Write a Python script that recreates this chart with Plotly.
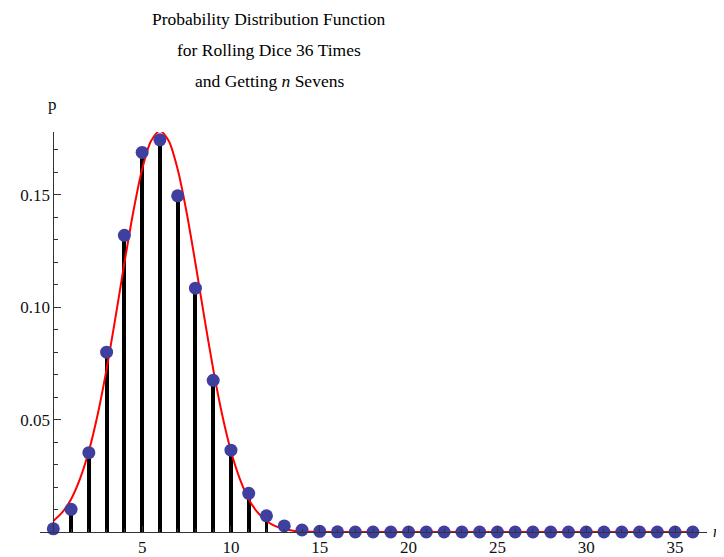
import plotly.graph_objects as go

# Number of sevens n and probability p
n_vals = list(range(37))
p_vals = [0.0014, 0.0101, 0.0353, 0.0800, 0.1320, 0.1689, 0.1745, 0.1496,
          0.1085, 0.0675, 0.0364, 0.0172, 0.0072, 0.0027, 0.0009, 0.0003,
          0.0001] + [0.0] * 20

# Red smooth curve
curve_x = [0, 0.5, 1, 1.5, 2, 2.5, 3, 3.5, 4, 4.5, 5, 5.5, 6, 6.5, 7, 7.5,
           8, 8.5, 9, 9.5, 10, 10.5, 11, 11.5, 12, 12.5, 13, 13.5, 14, 15, 36]
curve_y = [0.0049, 0.0087, 0.0146, 0.0236, 0.0360, 0.0524, 0.0725, 0.0955,
           0.1196, 0.1424, 0.1614, 0.1740, 0.1784, 0.1740, 0.1614, 0.1424,
           0.1196, 0.0955, 0.0725, 0.0524, 0.0360, 0.0236, 0.0146, 0.0087,
           0.0049, 0.0026, 0.0013, 0.0006, 0.0003, 0.0, 0.0]

x_ticks = [5, 10, 15, 20, 25, 30, 35]
y_ticks = [0.05, 0.10, 0.15]
y_tick_text = ["0.05", "0.10", "0.15"]

title_lines = ["Probability Distribution Function",
               "for Rolling Dice 36 Times",
               "and Getting <i>n</i> Sevens"]

SERIF = "Liberation Serif"
OFF = 8  # page body margin offset of the figure in the window
W, H = 724 - OFF, 557 - OFF
ML, MR, MT, MB = 40 - OFF, 17, 132 - OFF, 24.5
XMIN, XMAX = -0.75, 36.8

fig = go.Figure()

fig.add_trace(go.Bar(x=n_vals, y=p_vals, width=0.22,
                     marker=dict(color="black", line=dict(width=0)),
                     hoverinfo="skip"))

fig.add_trace(go.Scatter(x=curve_x, y=curve_y, mode="lines",
                         line=dict(color="#ff0000", width=2, shape="spline",
                                   smoothing=0.8),
                         cliponaxis=False, hoverinfo="skip"))

fig.add_trace(go.Scatter(x=n_vals, y=p_vals, mode="markers",
                         marker=dict(color="#3f3f9f", size=13,
                                     line=dict(width=0)),
                         cliponaxis=False))

yaxis_pos = (0 - XMIN) / (XMAX - XMIN)

fig.update_layout(
    width=W, height=H,
    margin=dict(l=ML, r=MR, t=MT, b=MB, pad=0, autoexpand=False),
    paper_bgcolor="white", plot_bgcolor="white",
    showlegend=False,
    bargap=0,
    font=dict(family=SERIF, size=17, color="#111"),
    xaxis=dict(range=[XMIN, XMAX], showgrid=False, zeroline=False,
               automargin=False,
               showline=True, linecolor="#333", linewidth=1,
               ticks="inside", ticklen=6, tickwidth=1, tickcolor="#333",
               tickvals=x_ticks, ticktext=[str(v) for v in x_ticks],
               tickfont=dict(family=SERIF, size=17, color="#111"),
               minor=dict(dtick=1, tick0=0, ticks="inside", ticklen=3,
                          tickcolor="#333", tickwidth=1),
               fixedrange=True),
    yaxis=dict(range=[0, 0.178], showgrid=False, zeroline=False,
               automargin=False,
               anchor="free", position=yaxis_pos,
               showline=True, linecolor="#333", linewidth=1,
               ticks="inside", ticklen=7, tickwidth=1, tickcolor="#333",
               tickvals=y_ticks, ticktext=y_tick_text,
               tickfont=dict(family=SERIF, size=17, color="#111"),
               minor=dict(dtick=0.01, tick0=0, ticks="inside", ticklen=4,
                          tickcolor="#333", tickwidth=1),
               fixedrange=True),
)

pw = W - ML - MR
ph = H - MT - MB

# helpers take window pixel positions (as seen in the reference)
def px_to_paper_x(px):
    return (px - OFF - ML) / pw

def px_to_paper_y(py):
    return (H - MB - (py - OFF)) / ph

title_y_px = [19, 50, 81]
for line, ypx in zip(title_lines, title_y_px):
    fig.add_annotation(text=line, xref="paper", yref="paper",
                       x=px_to_paper_x(269), y=px_to_paper_y(ypx),
                       xanchor="center", yanchor="middle", showarrow=False,
                       font=dict(family=SERIF, size=17.5, color="black"))

fig.add_annotation(text="p", xref="paper", yref="paper",
                   x=px_to_paper_x(52.5), y=px_to_paper_y(104),
                   xanchor="center", yanchor="middle", showarrow=False,
                   font=dict(family=SERIF, size=17, color="#111"))

fig.add_annotation(text="<i>n</i>", xref="paper", yref="paper",
                   x=px_to_paper_x(711), y=px_to_paper_y(532),
                   xanchor="left", yanchor="middle", showarrow=False,
                   font=dict(family=SERIF, size=16, color="#111"))

fig.write_html("out.html")
